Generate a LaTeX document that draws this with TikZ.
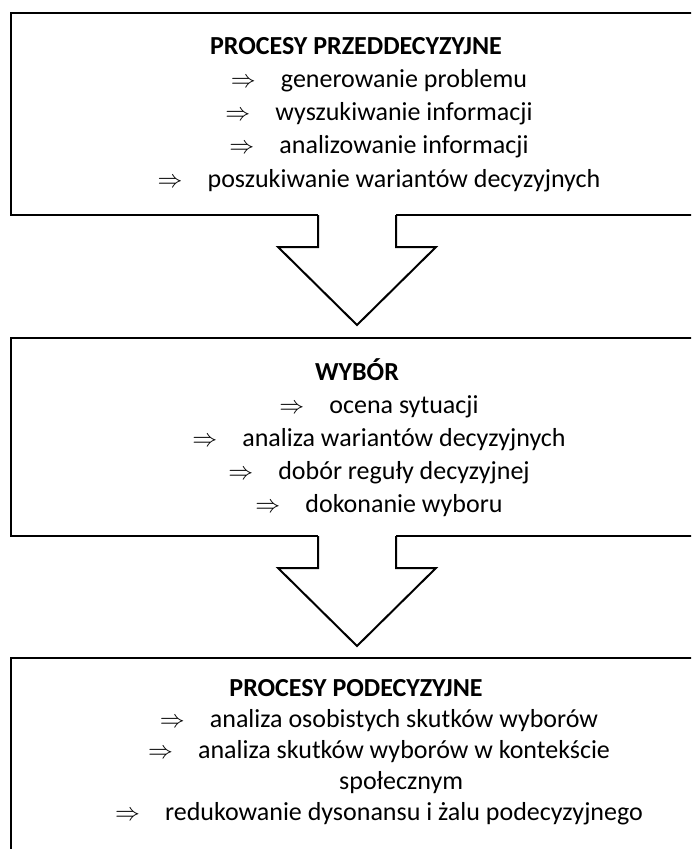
\documentclass[tikz,border=0pt]{standalone}
\usepackage{fontspec}
\setmainfont{Carlito}
\begin{document}
\begin{tikzpicture}[x=1pt,y=-1pt,
  boxline/.style={line width=2.6pt, line join=miter},
  arrline/.style={line width=2pt, line join=miter},
  txt/.style={inner sep=0pt, anchor=base west, font=\fontsize{26}{31}\selectfont},
  hdr/.style={inner sep=0pt, anchor=base, font=\fontsize{26}{31}\selectfont\bfseries},
  itm/.style={inner sep=0pt, anchor=base, font=\fontsize{26}{31}\selectfont}]
\useasboundingbox (0,0) rectangle (691,849);
\clip (0,0) rectangle (691,849);
% item line: name, baseline, text (line centred at x=379)
\newcommand\itemrow[3]{%
  \node[itm] (#1) at (379,#2) {\makebox[50pt][l]{\fontsize{24}{24}\selectfont$\Rightarrow$}#3};}
% ---------- box 1 ----------
\draw[boxline] (730,13) -- (11,13) -- (11,215) -- (318,215);
\draw[boxline] (396,215) -- (730,215);
\draw[arrline] (318,215) -- (318,247) -- (278,247) -- (357,325) -- (436,247) -- (396,247) -- (396,215);
\node[hdr] (h1) at (356,54) {PROCESY PRZEDDECYZYJNE};
\itemrow{a1}{87}{generowanie problemu}
\itemrow{a2}{120}{wyszukiwanie informacji}
\itemrow{a3}{153}{analizowanie informacji}
\itemrow{a4}{187}{poszukiwanie wariantów decyzyjnych}
% ---------- box 2 ----------
\draw[boxline] (730,338) -- (11,338) -- (11,536) -- (318,536);
\draw[boxline] (396,536) -- (730,536);
\draw[arrline] (318,536) -- (318,568) -- (278,568) -- (357,646) -- (436,568) -- (396,568) -- (396,536);
\node[hdr] (h2) at (357,380) {WYBÓR};
\itemrow{b1}{413}{ocena sytuacji}
\itemrow{b2}{446}{analiza wariantów decyzyjnych}
\itemrow{b3}{479}{dobór reguły decyzyjnej}
\itemrow{b4}{512}{dokonanie wyboru}
% ---------- box 3 ----------
\draw[boxline] (730,658) -- (11,658) -- (11,870);
\node[hdr] (h3) at (356,696) {PROCESY PODECYZYJNE};
\itemrow{c1}{727}{analiza osobistych skutków wyborów}
\itemrow{c2}{758}{analiza skutków wyborów w kontekście}
\node[txt] (c2b) at (339,789) {społecznym};
\itemrow{c3}{820}{redukowanie dysonansu i żalu podecyzyjnego}
\end{tikzpicture}
\end{document}
